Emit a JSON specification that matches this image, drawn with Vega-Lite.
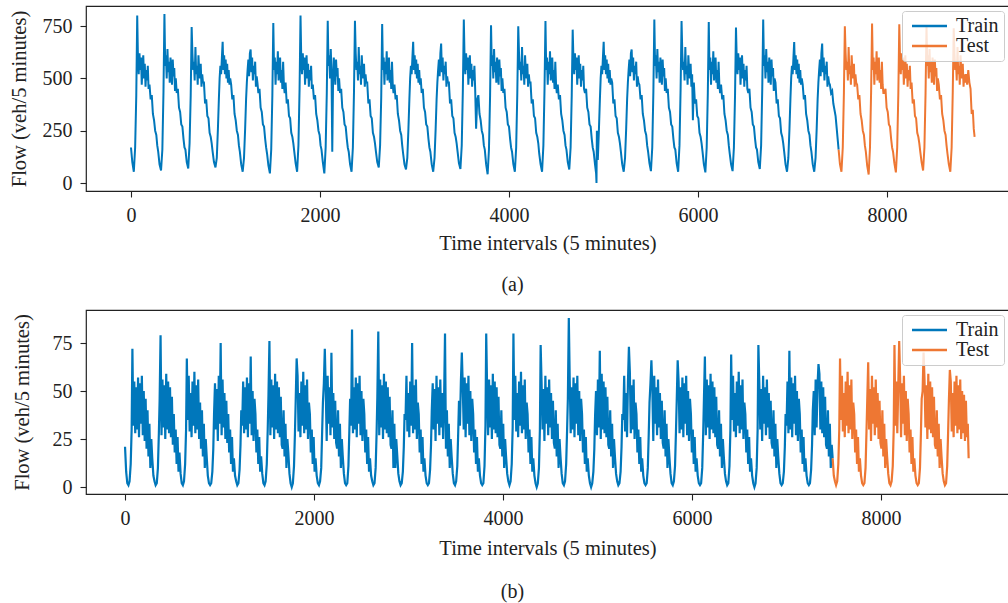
{
"$schema":"https://vega.github.io/schema/vega-lite/v6.json",
"padding":{"left":8,"top":5,"right":0,"bottom":0},
"config":{
"font":"Liberation Serif",
"view":{"stroke":"#222222","strokeWidth":1.2},
"axis":{"domain":false,"grid":false,"ticks":true,"tickSize":6,"tickColor":"#222222","tickWidth":1.1,"labelFont":"Liberation Serif","labelFontSize":20,"labelColor":"#222222","titleFont":"Liberation Serif","titleFontSize":20.5,"titleFontWeight":"normal","titleColor":"#222222","labelPadding":8,"format":"d"},
"legend":{"orient":"top-right","offset":5,"title":null,"symbolType":"M-1,0H6","symbolSize":100,"symbolStrokeWidth":2.5,"labelFont":"Liberation Serif","labelFontSize":20,"labelColor":"#222222","labelOffset":29,"rowPadding":0,"padding":5,"fillColor":"rgba(255,255,255,0.8)","strokeColor":"#cccccc","cornerRadius":3},
"title":{"font":"Liberation Serif","fontSize":20,"fontWeight":"normal","color":"#222222"}
},
"datasets":{
"a":[
{"t":0,"v":170},{"t":14,"v":100},{"t":30,"v":54},{"t":44,"v":170},{"t":56,"v":420},{"t":66,"v":800},{"t":74,"v":590},{"t":82,"v":520},{"t":90,"v":620},{"t":98,"v":540},{"t":106,"v":600},{"t":114,"v":470},{"t":122,"v":560},{"t":130,"v":610},{"t":138,"v":500},{"t":146,"v":570},{"t":154,"v":460},{"t":162,"v":540},{"t":170,"v":490},{"t":178,"v":560},{"t":186,"v":450},{"t":196,"v":470},{"t":208,"v":400},{"t":220,"v":420},{"t":232,"v":330},{"t":244,"v":300},{"t":256,"v":250},{"t":268,"v":230},{"t":278,"v":180},
{"t":288,"v":150},{"t":302,"v":90},{"t":318,"v":60},{"t":332,"v":160},{"t":344,"v":440},{"t":354,"v":808},{"t":362,"v":560},{"t":370,"v":610},{"t":378,"v":500},{"t":386,"v":640},{"t":394,"v":530},{"t":402,"v":580},{"t":410,"v":480},{"t":418,"v":600},{"t":426,"v":540},{"t":434,"v":470},{"t":442,"v":590},{"t":450,"v":510},{"t":458,"v":550},{"t":466,"v":440},{"t":474,"v":500},{"t":484,"v":430},{"t":496,"v":450},{"t":508,"v":360},{"t":520,"v":340},{"t":532,"v":280},{"t":544,"v":270},{"t":556,"v":210},{"t":566,"v":170},
{"t":576,"v":160},{"t":590,"v":100},{"t":606,"v":70},{"t":620,"v":190},{"t":632,"v":420},{"t":642,"v":745},{"t":650,"v":620},{"t":658,"v":540},{"t":666,"v":580},{"t":674,"v":490},{"t":682,"v":650},{"t":690,"v":520},{"t":698,"v":560},{"t":706,"v":470},{"t":714,"v":610},{"t":722,"v":530},{"t":730,"v":500},{"t":738,"v":570},{"t":746,"v":460},{"t":754,"v":520},{"t":762,"v":480},{"t":772,"v":480},{"t":784,"v":380},{"t":796,"v":400},{"t":808,"v":320},{"t":820,"v":310},{"t":832,"v":240},{"t":844,"v":220},{"t":854,"v":190},
{"t":864,"v":150},{"t":878,"v":100},{"t":894,"v":75},{"t":908,"v":120},{"t":920,"v":260},{"t":930,"v":400},{"t":938,"v":500},{"t":946,"v":560},{"t":954,"v":520},{"t":962,"v":600},{"t":970,"v":675},{"t":978,"v":540},{"t":986,"v":610},{"t":994,"v":520},{"t":1002,"v":590},{"t":1010,"v":500},{"t":1018,"v":570},{"t":1026,"v":480},{"t":1034,"v":540},{"t":1042,"v":470},{"t":1050,"v":500},{"t":1060,"v":470},{"t":1072,"v":400},{"t":1084,"v":420},{"t":1096,"v":330},{"t":1108,"v":300},{"t":1120,"v":250},{"t":1132,"v":230},{"t":1142,"v":180},
{"t":1152,"v":150},{"t":1166,"v":90},{"t":1182,"v":54},{"t":1196,"v":120},{"t":1208,"v":260},{"t":1218,"v":400},{"t":1226,"v":480},{"t":1234,"v":540},{"t":1242,"v":590},{"t":1250,"v":510},{"t":1258,"v":620},{"t":1266,"v":638},{"t":1274,"v":530},{"t":1282,"v":600},{"t":1290,"v":490},{"t":1298,"v":560},{"t":1306,"v":520},{"t":1314,"v":580},{"t":1322,"v":460},{"t":1330,"v":510},{"t":1338,"v":480},{"t":1348,"v":430},{"t":1360,"v":450},{"t":1372,"v":360},{"t":1384,"v":340},{"t":1396,"v":280},{"t":1408,"v":270},{"t":1420,"v":210},{"t":1430,"v":170},
{"t":1440,"v":140},{"t":1454,"v":85},{"t":1470,"v":46},{"t":1484,"v":160},{"t":1496,"v":420},{"t":1506,"v":765},{"t":1514,"v":540},{"t":1522,"v":600},{"t":1530,"v":470},{"t":1538,"v":580},{"t":1546,"v":520},{"t":1554,"v":630},{"t":1562,"v":490},{"t":1570,"v":550},{"t":1578,"v":600},{"t":1586,"v":480},{"t":1594,"v":540},{"t":1602,"v":450},{"t":1610,"v":580},{"t":1618,"v":470},{"t":1626,"v":430},{"t":1636,"v":480},{"t":1648,"v":380},{"t":1660,"v":400},{"t":1672,"v":320},{"t":1684,"v":310},{"t":1696,"v":240},{"t":1708,"v":220},{"t":1718,"v":190},
{"t":1728,"v":150},{"t":1742,"v":95},{"t":1758,"v":54},{"t":1772,"v":180},{"t":1784,"v":450},{"t":1794,"v":800},{"t":1802,"v":590},{"t":1810,"v":520},{"t":1818,"v":620},{"t":1826,"v":540},{"t":1834,"v":600},{"t":1842,"v":470},{"t":1850,"v":560},{"t":1858,"v":610},{"t":1866,"v":500},{"t":1874,"v":570},{"t":1882,"v":460},{"t":1890,"v":540},{"t":1898,"v":490},{"t":1906,"v":560},{"t":1914,"v":450},{"t":1924,"v":470},{"t":1936,"v":400},{"t":1948,"v":420},{"t":1960,"v":330},{"t":1972,"v":300},{"t":1984,"v":250},{"t":1996,"v":230},{"t":2006,"v":180},
{"t":2016,"v":160},{"t":2030,"v":100},{"t":2046,"v":46},{"t":2060,"v":170},{"t":2072,"v":430},{"t":2082,"v":775},{"t":2090,"v":560},{"t":2098,"v":610},{"t":2106,"v":500},{"t":2114,"v":640},{"t":2122,"v":530},{"t":2130,"v":150},{"t":2138,"v":480},{"t":2146,"v":600},{"t":2154,"v":540},{"t":2162,"v":470},{"t":2170,"v":590},{"t":2178,"v":510},{"t":2186,"v":550},{"t":2194,"v":440},{"t":2202,"v":500},{"t":2212,"v":430},{"t":2224,"v":450},{"t":2236,"v":360},{"t":2248,"v":340},{"t":2260,"v":280},{"t":2272,"v":270},{"t":2284,"v":210},{"t":2294,"v":170},
{"t":2304,"v":150},{"t":2318,"v":90},{"t":2334,"v":54},{"t":2348,"v":170},{"t":2360,"v":440},{"t":2370,"v":775},{"t":2378,"v":620},{"t":2386,"v":540},{"t":2394,"v":580},{"t":2402,"v":490},{"t":2410,"v":650},{"t":2418,"v":520},{"t":2426,"v":560},{"t":2434,"v":470},{"t":2442,"v":610},{"t":2450,"v":530},{"t":2458,"v":500},{"t":2466,"v":570},{"t":2474,"v":460},{"t":2482,"v":520},{"t":2490,"v":480},{"t":2500,"v":480},{"t":2512,"v":380},{"t":2524,"v":400},{"t":2536,"v":320},{"t":2548,"v":310},{"t":2560,"v":240},{"t":2572,"v":220},{"t":2582,"v":190},
{"t":2592,"v":150},{"t":2606,"v":100},{"t":2622,"v":75},{"t":2636,"v":180},{"t":2648,"v":410},{"t":2658,"v":760},{"t":2666,"v":540},{"t":2674,"v":600},{"t":2682,"v":470},{"t":2690,"v":580},{"t":2698,"v":520},{"t":2706,"v":630},{"t":2714,"v":490},{"t":2722,"v":550},{"t":2730,"v":600},{"t":2738,"v":480},{"t":2746,"v":540},{"t":2754,"v":450},{"t":2762,"v":580},{"t":2770,"v":470},{"t":2778,"v":430},{"t":2788,"v":470},{"t":2800,"v":400},{"t":2812,"v":420},{"t":2824,"v":330},{"t":2836,"v":300},{"t":2848,"v":250},{"t":2860,"v":230},{"t":2870,"v":180},
{"t":2880,"v":140},{"t":2894,"v":90},{"t":2910,"v":65},{"t":2924,"v":120},{"t":2936,"v":260},{"t":2946,"v":400},{"t":2954,"v":500},{"t":2962,"v":560},{"t":2970,"v":520},{"t":2978,"v":600},{"t":2986,"v":675},{"t":2994,"v":540},{"t":3002,"v":610},{"t":3010,"v":520},{"t":3018,"v":590},{"t":3026,"v":500},{"t":3034,"v":570},{"t":3042,"v":480},{"t":3050,"v":540},{"t":3058,"v":470},{"t":3066,"v":500},{"t":3076,"v":430},{"t":3088,"v":450},{"t":3100,"v":360},{"t":3112,"v":340},{"t":3124,"v":280},{"t":3136,"v":270},{"t":3148,"v":210},{"t":3158,"v":170},
{"t":3168,"v":150},{"t":3182,"v":90},{"t":3198,"v":54},{"t":3212,"v":120},{"t":3224,"v":260},{"t":3234,"v":400},{"t":3242,"v":480},{"t":3250,"v":540},{"t":3258,"v":590},{"t":3266,"v":510},{"t":3274,"v":620},{"t":3282,"v":667},{"t":3290,"v":530},{"t":3298,"v":600},{"t":3306,"v":490},{"t":3314,"v":560},{"t":3322,"v":520},{"t":3330,"v":580},{"t":3338,"v":460},{"t":3346,"v":510},{"t":3354,"v":480},{"t":3364,"v":480},{"t":3376,"v":380},{"t":3388,"v":400},{"t":3400,"v":320},{"t":3412,"v":310},{"t":3424,"v":240},{"t":3436,"v":220},{"t":3446,"v":190},
{"t":3456,"v":150},{"t":3470,"v":95},{"t":3486,"v":67},{"t":3500,"v":180},{"t":3512,"v":450},{"t":3522,"v":781},{"t":3530,"v":590},{"t":3538,"v":520},{"t":3546,"v":620},{"t":3554,"v":540},{"t":3562,"v":600},{"t":3570,"v":470},{"t":3578,"v":560},{"t":3586,"v":610},{"t":3594,"v":500},{"t":3602,"v":570},{"t":3610,"v":460},{"t":3618,"v":540},{"t":3626,"v":490},{"t":3634,"v":560},{"t":3642,"v":450},{"t":3652,"v":260},{"t":3664,"v":400},{"t":3676,"v":420},{"t":3688,"v":330},{"t":3700,"v":300},{"t":3712,"v":250},{"t":3724,"v":230},{"t":3734,"v":180},
{"t":3744,"v":160},{"t":3758,"v":90},{"t":3774,"v":42},{"t":3788,"v":160},{"t":3800,"v":420},{"t":3810,"v":754},{"t":3818,"v":560},{"t":3826,"v":610},{"t":3834,"v":500},{"t":3842,"v":640},{"t":3850,"v":530},{"t":3858,"v":580},{"t":3866,"v":480},{"t":3874,"v":600},{"t":3882,"v":540},{"t":3890,"v":470},{"t":3898,"v":590},{"t":3906,"v":510},{"t":3914,"v":550},{"t":3922,"v":440},{"t":3930,"v":500},{"t":3940,"v":430},{"t":3952,"v":450},{"t":3964,"v":360},{"t":3976,"v":340},{"t":3988,"v":280},{"t":4000,"v":270},{"t":4012,"v":210},{"t":4022,"v":170},
{"t":4032,"v":150},{"t":4046,"v":90},{"t":4062,"v":54},{"t":4076,"v":170},{"t":4088,"v":430},{"t":4098,"v":749},{"t":4106,"v":620},{"t":4114,"v":540},{"t":4122,"v":580},{"t":4130,"v":490},{"t":4138,"v":650},{"t":4146,"v":520},{"t":4154,"v":560},{"t":4162,"v":470},{"t":4170,"v":610},{"t":4178,"v":530},{"t":4186,"v":500},{"t":4194,"v":570},{"t":4202,"v":460},{"t":4210,"v":520},{"t":4218,"v":480},{"t":4228,"v":480},{"t":4240,"v":380},{"t":4252,"v":400},{"t":4264,"v":320},{"t":4276,"v":310},{"t":4288,"v":240},{"t":4300,"v":220},{"t":4310,"v":190},
{"t":4320,"v":140},{"t":4334,"v":90},{"t":4350,"v":54},{"t":4364,"v":180},{"t":4376,"v":450},{"t":4386,"v":774},{"t":4394,"v":540},{"t":4402,"v":600},{"t":4410,"v":470},{"t":4418,"v":580},{"t":4426,"v":520},{"t":4434,"v":630},{"t":4442,"v":490},{"t":4450,"v":550},{"t":4458,"v":600},{"t":4466,"v":480},{"t":4474,"v":540},{"t":4482,"v":450},{"t":4490,"v":580},{"t":4498,"v":470},{"t":4506,"v":430},{"t":4516,"v":470},{"t":4528,"v":400},{"t":4540,"v":420},{"t":4552,"v":330},{"t":4564,"v":300},{"t":4576,"v":250},{"t":4588,"v":230},{"t":4598,"v":180},
{"t":4608,"v":160},{"t":4622,"v":100},{"t":4638,"v":65},{"t":4652,"v":170},{"t":4664,"v":420},{"t":4674,"v":733},{"t":4682,"v":590},{"t":4690,"v":520},{"t":4698,"v":620},{"t":4706,"v":540},{"t":4714,"v":600},{"t":4722,"v":470},{"t":4730,"v":560},{"t":4738,"v":610},{"t":4746,"v":500},{"t":4754,"v":570},{"t":4762,"v":460},{"t":4770,"v":540},{"t":4778,"v":490},{"t":4786,"v":560},{"t":4794,"v":450},{"t":4804,"v":430},{"t":4816,"v":450},{"t":4828,"v":360},{"t":4840,"v":340},{"t":4852,"v":280},{"t":4864,"v":270},{"t":4876,"v":210},{"t":4886,"v":170},
{"t":4896,"v":150},{"t":4910,"v":90},{"t":4922,"v":45},{"t":4926,"v":0},{"t":4930,"v":250},{"t":4940,"v":110},{"t":4952,"v":260},{"t":4962,"v":400},{"t":4970,"v":500},{"t":4978,"v":560},{"t":4986,"v":520},{"t":4994,"v":600},{"t":5002,"v":675},{"t":5010,"v":540},{"t":5018,"v":610},{"t":5026,"v":520},{"t":5034,"v":590},{"t":5042,"v":500},{"t":5050,"v":570},{"t":5058,"v":480},{"t":5066,"v":540},{"t":5074,"v":470},{"t":5082,"v":500},{"t":5092,"v":480},{"t":5104,"v":380},{"t":5116,"v":400},{"t":5128,"v":320},{"t":5140,"v":310},{"t":5152,"v":240},{"t":5164,"v":220},{"t":5174,"v":190},
{"t":5184,"v":150},{"t":5198,"v":90},{"t":5214,"v":54},{"t":5228,"v":120},{"t":5240,"v":260},{"t":5250,"v":400},{"t":5258,"v":480},{"t":5266,"v":540},{"t":5274,"v":590},{"t":5282,"v":510},{"t":5290,"v":620},{"t":5298,"v":638},{"t":5306,"v":530},{"t":5314,"v":600},{"t":5322,"v":490},{"t":5330,"v":560},{"t":5338,"v":520},{"t":5346,"v":580},{"t":5354,"v":460},{"t":5362,"v":510},{"t":5370,"v":480},{"t":5380,"v":470},{"t":5392,"v":400},{"t":5404,"v":420},{"t":5416,"v":330},{"t":5428,"v":300},{"t":5440,"v":250},{"t":5452,"v":230},{"t":5462,"v":180},
{"t":5472,"v":150},{"t":5486,"v":95},{"t":5502,"v":57},{"t":5516,"v":170},{"t":5528,"v":440},{"t":5538,"v":781},{"t":5546,"v":560},{"t":5554,"v":610},{"t":5562,"v":500},{"t":5570,"v":640},{"t":5578,"v":530},{"t":5586,"v":580},{"t":5594,"v":480},{"t":5602,"v":600},{"t":5610,"v":540},{"t":5618,"v":470},{"t":5626,"v":590},{"t":5634,"v":510},{"t":5642,"v":550},{"t":5650,"v":440},{"t":5658,"v":500},{"t":5668,"v":430},{"t":5680,"v":450},{"t":5692,"v":360},{"t":5704,"v":340},{"t":5716,"v":280},{"t":5728,"v":270},{"t":5740,"v":210},{"t":5750,"v":170},
{"t":5760,"v":160},{"t":5774,"v":95},{"t":5790,"v":54},{"t":5804,"v":180},{"t":5816,"v":450},{"t":5826,"v":774},{"t":5834,"v":620},{"t":5842,"v":540},{"t":5850,"v":580},{"t":5858,"v":490},{"t":5866,"v":650},{"t":5874,"v":520},{"t":5882,"v":560},{"t":5890,"v":470},{"t":5898,"v":610},{"t":5906,"v":530},{"t":5914,"v":500},{"t":5922,"v":570},{"t":5930,"v":460},{"t":5938,"v":520},{"t":5946,"v":300},{"t":5956,"v":480},{"t":5968,"v":380},{"t":5980,"v":400},{"t":5992,"v":320},{"t":6004,"v":310},{"t":6016,"v":240},{"t":6028,"v":220},{"t":6038,"v":190},
{"t":6048,"v":150},{"t":6062,"v":90},{"t":6078,"v":51},{"t":6092,"v":170},{"t":6104,"v":430},{"t":6114,"v":770},{"t":6122,"v":540},{"t":6130,"v":600},{"t":6138,"v":470},{"t":6146,"v":580},{"t":6154,"v":520},{"t":6162,"v":630},{"t":6170,"v":490},{"t":6178,"v":550},{"t":6186,"v":600},{"t":6194,"v":480},{"t":6202,"v":540},{"t":6210,"v":450},{"t":6218,"v":580},{"t":6226,"v":470},{"t":6234,"v":430},{"t":6244,"v":470},{"t":6256,"v":400},{"t":6268,"v":420},{"t":6280,"v":330},{"t":6292,"v":300},{"t":6304,"v":250},{"t":6316,"v":230},{"t":6326,"v":180},
{"t":6336,"v":140},{"t":6350,"v":90},{"t":6366,"v":57},{"t":6380,"v":170},{"t":6392,"v":420},{"t":6402,"v":743},{"t":6410,"v":590},{"t":6418,"v":520},{"t":6426,"v":620},{"t":6434,"v":540},{"t":6442,"v":600},{"t":6450,"v":470},{"t":6458,"v":560},{"t":6466,"v":610},{"t":6474,"v":500},{"t":6482,"v":570},{"t":6490,"v":460},{"t":6498,"v":540},{"t":6506,"v":490},{"t":6514,"v":560},{"t":6522,"v":450},{"t":6532,"v":430},{"t":6544,"v":450},{"t":6556,"v":360},{"t":6568,"v":340},{"t":6580,"v":280},{"t":6592,"v":270},{"t":6604,"v":210},{"t":6614,"v":170},
{"t":6624,"v":160},{"t":6638,"v":100},{"t":6654,"v":67},{"t":6668,"v":180},{"t":6680,"v":450},{"t":6690,"v":781},{"t":6698,"v":560},{"t":6706,"v":610},{"t":6714,"v":500},{"t":6722,"v":640},{"t":6730,"v":530},{"t":6738,"v":580},{"t":6746,"v":480},{"t":6754,"v":600},{"t":6762,"v":540},{"t":6770,"v":470},{"t":6778,"v":590},{"t":6786,"v":510},{"t":6794,"v":550},{"t":6802,"v":440},{"t":6810,"v":500},{"t":6820,"v":480},{"t":6832,"v":380},{"t":6844,"v":400},{"t":6856,"v":320},{"t":6868,"v":310},{"t":6880,"v":240},{"t":6892,"v":220},{"t":6902,"v":190},
{"t":6912,"v":150},{"t":6926,"v":90},{"t":6942,"v":54},{"t":6956,"v":120},{"t":6968,"v":260},{"t":6978,"v":400},{"t":6986,"v":500},{"t":6994,"v":560},{"t":7002,"v":520},{"t":7010,"v":600},{"t":7018,"v":674},{"t":7026,"v":540},{"t":7034,"v":610},{"t":7042,"v":520},{"t":7050,"v":590},{"t":7058,"v":500},{"t":7066,"v":570},{"t":7074,"v":480},{"t":7082,"v":540},{"t":7090,"v":470},{"t":7098,"v":500},{"t":7108,"v":470},{"t":7120,"v":400},{"t":7132,"v":420},{"t":7144,"v":330},{"t":7156,"v":300},{"t":7168,"v":250},{"t":7180,"v":230},{"t":7190,"v":180},
{"t":7200,"v":150},{"t":7214,"v":90},{"t":7230,"v":54},{"t":7244,"v":120},{"t":7256,"v":260},{"t":7266,"v":400},{"t":7274,"v":480},{"t":7282,"v":540},{"t":7290,"v":590},{"t":7298,"v":510},{"t":7306,"v":620},{"t":7314,"v":667},{"t":7322,"v":530},{"t":7330,"v":600},{"t":7338,"v":490},{"t":7346,"v":560},{"t":7354,"v":520},{"t":7362,"v":580},{"t":7370,"v":460},{"t":7378,"v":510},{"t":7386,"v":480},{"t":7396,"v":470},{"t":7408,"v":430},{"t":7420,"v":440},{"t":7432,"v":380},{"t":7444,"v":350},{"t":7456,"v":320},{"t":7468,"v":260},{"t":7478,"v":210},
{"t":7488,"v":160},{"t":7502,"v":90},{"t":7518,"v":54},{"t":7532,"v":170},{"t":7544,"v":430},{"t":7554,"v":749},{"t":7562,"v":620},{"t":7570,"v":540},{"t":7578,"v":580},{"t":7586,"v":490},{"t":7594,"v":650},{"t":7602,"v":520},{"t":7610,"v":560},{"t":7618,"v":470},{"t":7626,"v":610},{"t":7634,"v":530},{"t":7642,"v":500},{"t":7650,"v":570},{"t":7658,"v":460},{"t":7666,"v":520},{"t":7674,"v":480},{"t":7684,"v":470},{"t":7696,"v":400},{"t":7708,"v":420},{"t":7720,"v":330},{"t":7732,"v":300},{"t":7744,"v":250},{"t":7756,"v":230},{"t":7766,"v":180},
{"t":7776,"v":150},{"t":7790,"v":85},{"t":7806,"v":41},{"t":7820,"v":170},{"t":7832,"v":440},{"t":7842,"v":762},{"t":7850,"v":540},{"t":7858,"v":600},{"t":7866,"v":470},{"t":7874,"v":580},{"t":7882,"v":520},{"t":7890,"v":630},{"t":7898,"v":490},{"t":7906,"v":550},{"t":7914,"v":600},{"t":7922,"v":480},{"t":7930,"v":540},{"t":7938,"v":450},{"t":7946,"v":580},{"t":7954,"v":470},{"t":7962,"v":430},{"t":7972,"v":430},{"t":7984,"v":450},{"t":7996,"v":360},{"t":8008,"v":340},{"t":8020,"v":280},{"t":8032,"v":270},{"t":8044,"v":210},{"t":8054,"v":170},
{"t":8064,"v":150},{"t":8078,"v":95},{"t":8094,"v":51},{"t":8108,"v":170},{"t":8120,"v":430},{"t":8130,"v":759},{"t":8138,"v":590},{"t":8146,"v":520},{"t":8154,"v":620},{"t":8162,"v":540},{"t":8170,"v":600},{"t":8178,"v":470},{"t":8186,"v":560},{"t":8194,"v":610},{"t":8202,"v":500},{"t":8210,"v":570},{"t":8218,"v":460},{"t":8226,"v":540},{"t":8234,"v":490},{"t":8242,"v":560},{"t":8250,"v":450},{"t":8260,"v":480},{"t":8272,"v":380},{"t":8284,"v":400},{"t":8296,"v":320},{"t":8308,"v":310},{"t":8320,"v":240},{"t":8332,"v":220},{"t":8342,"v":190},
{"t":8352,"v":150},{"t":8366,"v":100},{"t":8382,"v":60},{"t":8396,"v":170},{"t":8408,"v":430},{"t":8418,"v":750},{"t":8426,"v":560},{"t":8434,"v":610},{"t":8442,"v":500},{"t":8450,"v":640},{"t":8458,"v":530},{"t":8466,"v":580},{"t":8474,"v":480},{"t":8482,"v":600},{"t":8490,"v":540},{"t":8498,"v":470},{"t":8506,"v":590},{"t":8514,"v":510},{"t":8522,"v":550},{"t":8530,"v":440},{"t":8538,"v":500},{"t":8548,"v":470},{"t":8560,"v":400},{"t":8572,"v":420},{"t":8584,"v":330},{"t":8596,"v":300},{"t":8608,"v":250},{"t":8620,"v":230},{"t":8630,"v":180},
{"t":8640,"v":140},{"t":8654,"v":90},{"t":8670,"v":54},{"t":8684,"v":170},{"t":8696,"v":440},{"t":8706,"v":740},{"t":8714,"v":620},{"t":8722,"v":540},{"t":8730,"v":580},{"t":8738,"v":490},{"t":8746,"v":650},{"t":8754,"v":520},{"t":8762,"v":560},{"t":8770,"v":470},{"t":8778,"v":610},{"t":8786,"v":530},{"t":8794,"v":500},{"t":8802,"v":570},{"t":8810,"v":460},{"t":8818,"v":520},{"t":8826,"v":480},{"t":8836,"v":520},{"t":8848,"v":470},{"t":8860,"v":540},{"t":8872,"v":480},{"t":8884,"v":450},{"t":8896,"v":330},{"t":8908,"v":350},{"t":8918,"v":260},{"t":8927,"v":221}
],
"b":[
{"t":0,"v":21},{"t":12,"v":8},{"t":24,"v":2},{"t":36,"v":1},{"t":48,"v":3},{"t":60,"v":12},{"t":70,"v":30},{"t":78,"v":72},{"t":88,"v":32},{"t":98,"v":55},{"t":108,"v":28},{"t":118,"v":52},{"t":128,"v":30},{"t":138,"v":57},{"t":148,"v":26},{"t":158,"v":54},{"t":168,"v":33},{"t":178,"v":58},{"t":188,"v":27},{"t":198,"v":50},{"t":208,"v":24},{"t":218,"v":46},{"t":228,"v":20},{"t":238,"v":40},{"t":248,"v":16},{"t":258,"v":33},{"t":268,"v":10},{"t":278,"v":25},
{"t":288,"v":15},{"t":300,"v":6},{"t":312,"v":3},{"t":324,"v":1},{"t":336,"v":2},{"t":348,"v":10},{"t":358,"v":28},{"t":366,"v":45},{"t":376,"v":79},{"t":386,"v":27},{"t":396,"v":56},{"t":406,"v":31},{"t":416,"v":53},{"t":426,"v":25},{"t":436,"v":59},{"t":446,"v":30},{"t":456,"v":55},{"t":466,"v":28},{"t":476,"v":52},{"t":486,"v":26},{"t":496,"v":47},{"t":506,"v":22},{"t":516,"v":38},{"t":526,"v":18},{"t":536,"v":30},{"t":546,"v":12},{"t":556,"v":26},{"t":566,"v":8},
{"t":576,"v":18},{"t":588,"v":7},{"t":600,"v":2},{"t":612,"v":1},{"t":624,"v":3},{"t":636,"v":12},{"t":646,"v":30},{"t":654,"v":67},{"t":664,"v":35},{"t":674,"v":58},{"t":684,"v":29},{"t":694,"v":49},{"t":704,"v":26},{"t":714,"v":55},{"t":724,"v":32},{"t":734,"v":60},{"t":744,"v":28},{"t":754,"v":53},{"t":764,"v":30},{"t":774,"v":56},{"t":784,"v":25},{"t":794,"v":44},{"t":804,"v":20},{"t":814,"v":40},{"t":824,"v":16},{"t":834,"v":33},{"t":844,"v":10},{"t":854,"v":25},
{"t":864,"v":16},{"t":876,"v":6},{"t":888,"v":2},{"t":900,"v":1},{"t":912,"v":2},{"t":924,"v":8},{"t":934,"v":20},{"t":942,"v":38},{"t":952,"v":54},{"t":962,"v":30},{"t":972,"v":51},{"t":982,"v":24},{"t":992,"v":58},{"t":1002,"v":33},{"t":1012,"v":75},{"t":1022,"v":27},{"t":1032,"v":56},{"t":1042,"v":31},{"t":1052,"v":49},{"t":1062,"v":25},{"t":1072,"v":45},{"t":1082,"v":23},{"t":1092,"v":38},{"t":1102,"v":18},{"t":1112,"v":30},{"t":1122,"v":12},{"t":1132,"v":26},{"t":1142,"v":8},
{"t":1152,"v":15},{"t":1164,"v":6},{"t":1176,"v":3},{"t":1188,"v":1},{"t":1200,"v":2},{"t":1212,"v":9},{"t":1222,"v":22},{"t":1230,"v":40},{"t":1240,"v":32},{"t":1250,"v":55},{"t":1260,"v":28},{"t":1270,"v":52},{"t":1280,"v":30},{"t":1290,"v":57},{"t":1300,"v":26},{"t":1310,"v":54},{"t":1320,"v":33},{"t":1330,"v":68},{"t":1340,"v":27},{"t":1350,"v":50},{"t":1360,"v":24},{"t":1370,"v":46},{"t":1380,"v":38},{"t":1390,"v":18},{"t":1400,"v":30},{"t":1410,"v":12},{"t":1420,"v":26},{"t":1430,"v":8},
{"t":1440,"v":16},{"t":1452,"v":7},{"t":1464,"v":2},{"t":1476,"v":1},{"t":1488,"v":3},{"t":1500,"v":12},{"t":1510,"v":30},{"t":1518,"v":48},{"t":1528,"v":76},{"t":1538,"v":27},{"t":1548,"v":56},{"t":1558,"v":31},{"t":1568,"v":53},{"t":1578,"v":25},{"t":1588,"v":59},{"t":1598,"v":30},{"t":1608,"v":55},{"t":1618,"v":28},{"t":1628,"v":52},{"t":1638,"v":26},{"t":1648,"v":47},{"t":1658,"v":22},{"t":1668,"v":20},{"t":1678,"v":40},{"t":1688,"v":16},{"t":1698,"v":33},{"t":1708,"v":10},{"t":1718,"v":25},
{"t":1728,"v":18},{"t":1740,"v":7},{"t":1752,"v":2},{"t":1764,"v":0},{"t":1776,"v":2},{"t":1788,"v":11},{"t":1798,"v":28},{"t":1806,"v":45},{"t":1816,"v":67},{"t":1826,"v":58},{"t":1836,"v":29},{"t":1846,"v":49},{"t":1856,"v":26},{"t":1866,"v":55},{"t":1876,"v":32},{"t":1886,"v":60},{"t":1896,"v":28},{"t":1906,"v":53},{"t":1916,"v":30},{"t":1926,"v":56},{"t":1936,"v":25},{"t":1946,"v":44},{"t":1956,"v":38},{"t":1966,"v":18},{"t":1976,"v":30},{"t":1986,"v":12},{"t":1996,"v":26},{"t":2006,"v":8},
{"t":2016,"v":15},{"t":2028,"v":6},{"t":2040,"v":2},{"t":2052,"v":1},{"t":2064,"v":3},{"t":2076,"v":10},{"t":2086,"v":29},{"t":2094,"v":44},{"t":2104,"v":54},{"t":2114,"v":72},{"t":2124,"v":51},{"t":2134,"v":24},{"t":2144,"v":58},{"t":2154,"v":33},{"t":2164,"v":52},{"t":2174,"v":27},{"t":2184,"v":70},{"t":2194,"v":31},{"t":2204,"v":49},{"t":2214,"v":25},{"t":2224,"v":45},{"t":2234,"v":23},{"t":2244,"v":20},{"t":2254,"v":40},{"t":2264,"v":16},{"t":2274,"v":33},{"t":2284,"v":10},{"t":2294,"v":25},
{"t":2304,"v":16},{"t":2316,"v":7},{"t":2328,"v":2},{"t":2340,"v":1},{"t":2352,"v":2},{"t":2364,"v":11},{"t":2374,"v":30},{"t":2382,"v":46},{"t":2392,"v":32},{"t":2402,"v":82},{"t":2412,"v":28},{"t":2422,"v":52},{"t":2432,"v":30},{"t":2442,"v":57},{"t":2452,"v":26},{"t":2462,"v":54},{"t":2472,"v":33},{"t":2482,"v":58},{"t":2492,"v":27},{"t":2502,"v":50},{"t":2512,"v":24},{"t":2522,"v":46},{"t":2532,"v":38},{"t":2542,"v":18},{"t":2552,"v":30},{"t":2562,"v":12},{"t":2572,"v":26},{"t":2582,"v":8},
{"t":2592,"v":15},{"t":2604,"v":6},{"t":2616,"v":3},{"t":2628,"v":1},{"t":2640,"v":2},{"t":2652,"v":10},{"t":2662,"v":28},{"t":2670,"v":47},{"t":2680,"v":81},{"t":2690,"v":27},{"t":2700,"v":56},{"t":2710,"v":31},{"t":2720,"v":53},{"t":2730,"v":25},{"t":2740,"v":59},{"t":2750,"v":30},{"t":2760,"v":55},{"t":2770,"v":28},{"t":2780,"v":52},{"t":2790,"v":26},{"t":2800,"v":47},{"t":2810,"v":22},{"t":2820,"v":20},{"t":2830,"v":40},{"t":2840,"v":10},{"t":2850,"v":33},{"t":2860,"v":10},{"t":2870,"v":25},
{"t":2880,"v":17},{"t":2892,"v":7},{"t":2904,"v":3},{"t":2916,"v":1},{"t":2928,"v":2},{"t":2940,"v":8},{"t":2950,"v":21},{"t":2958,"v":38},{"t":2968,"v":35},{"t":2978,"v":58},{"t":2988,"v":29},{"t":2998,"v":49},{"t":3008,"v":26},{"t":3018,"v":55},{"t":3028,"v":32},{"t":3038,"v":75},{"t":3048,"v":28},{"t":3058,"v":53},{"t":3068,"v":30},{"t":3078,"v":56},{"t":3088,"v":25},{"t":3098,"v":44},{"t":3108,"v":38},{"t":3118,"v":18},{"t":3128,"v":30},{"t":3138,"v":12},{"t":3148,"v":26},{"t":3158,"v":8},
{"t":3168,"v":15},{"t":3180,"v":6},{"t":3192,"v":2},{"t":3204,"v":1},{"t":3216,"v":2},{"t":3228,"v":9},{"t":3238,"v":22},{"t":3246,"v":40},{"t":3256,"v":54},{"t":3266,"v":30},{"t":3276,"v":51},{"t":3286,"v":24},{"t":3296,"v":58},{"t":3306,"v":33},{"t":3316,"v":52},{"t":3326,"v":27},{"t":3336,"v":56},{"t":3346,"v":31},{"t":3356,"v":49},{"t":3366,"v":25},{"t":3376,"v":45},{"t":3386,"v":80},{"t":3396,"v":20},{"t":3406,"v":40},{"t":3416,"v":16},{"t":3426,"v":33},{"t":3436,"v":10},{"t":3446,"v":25},
{"t":3456,"v":16},{"t":3468,"v":7},{"t":3480,"v":2},{"t":3492,"v":1},{"t":3504,"v":3},{"t":3516,"v":11},{"t":3526,"v":29},{"t":3534,"v":45},{"t":3544,"v":32},{"t":3554,"v":55},{"t":3564,"v":70},{"t":3574,"v":52},{"t":3584,"v":30},{"t":3594,"v":57},{"t":3604,"v":26},{"t":3614,"v":54},{"t":3624,"v":33},{"t":3634,"v":58},{"t":3644,"v":27},{"t":3654,"v":50},{"t":3664,"v":24},{"t":3674,"v":46},{"t":3684,"v":38},{"t":3694,"v":18},{"t":3704,"v":30},{"t":3714,"v":12},{"t":3724,"v":26},{"t":3734,"v":8},
{"t":3744,"v":15},{"t":3756,"v":6},{"t":3768,"v":2},{"t":3780,"v":1},{"t":3792,"v":2},{"t":3804,"v":11},{"t":3814,"v":32},{"t":3822,"v":80},{"t":3832,"v":50},{"t":3842,"v":27},{"t":3852,"v":56},{"t":3862,"v":31},{"t":3872,"v":53},{"t":3882,"v":25},{"t":3892,"v":59},{"t":3902,"v":30},{"t":3912,"v":55},{"t":3922,"v":28},{"t":3932,"v":52},{"t":3942,"v":26},{"t":3952,"v":47},{"t":3962,"v":22},{"t":3972,"v":20},{"t":3982,"v":40},{"t":3992,"v":16},{"t":4002,"v":33},{"t":4012,"v":10},{"t":4022,"v":25},
{"t":4032,"v":16},{"t":4044,"v":7},{"t":4056,"v":3},{"t":4068,"v":1},{"t":4080,"v":3},{"t":4092,"v":12},{"t":4102,"v":31},{"t":4110,"v":80},{"t":4120,"v":35},{"t":4130,"v":58},{"t":4140,"v":29},{"t":4150,"v":49},{"t":4160,"v":26},{"t":4170,"v":55},{"t":4180,"v":32},{"t":4190,"v":60},{"t":4200,"v":28},{"t":4210,"v":53},{"t":4220,"v":30},{"t":4230,"v":56},{"t":4240,"v":25},{"t":4250,"v":44},{"t":4260,"v":38},{"t":4270,"v":18},{"t":4280,"v":30},{"t":4290,"v":12},{"t":4300,"v":26},{"t":4310,"v":8},
{"t":4320,"v":15},{"t":4332,"v":6},{"t":4344,"v":2},{"t":4356,"v":0},{"t":4368,"v":2},{"t":4380,"v":10},{"t":4390,"v":30},{"t":4398,"v":74},{"t":4408,"v":54},{"t":4418,"v":30},{"t":4428,"v":51},{"t":4438,"v":24},{"t":4448,"v":58},{"t":4458,"v":33},{"t":4468,"v":52},{"t":4478,"v":27},{"t":4488,"v":56},{"t":4498,"v":31},{"t":4508,"v":49},{"t":4518,"v":25},{"t":4528,"v":45},{"t":4538,"v":23},{"t":4548,"v":20},{"t":4558,"v":40},{"t":4568,"v":16},{"t":4578,"v":33},{"t":4588,"v":10},{"t":4598,"v":25},
{"t":4608,"v":16},{"t":4620,"v":7},{"t":4632,"v":2},{"t":4644,"v":1},{"t":4656,"v":3},{"t":4668,"v":12},{"t":4678,"v":30},{"t":4686,"v":46},{"t":4696,"v":88},{"t":4706,"v":55},{"t":4716,"v":28},{"t":4726,"v":52},{"t":4736,"v":30},{"t":4746,"v":57},{"t":4756,"v":26},{"t":4766,"v":54},{"t":4776,"v":33},{"t":4786,"v":58},{"t":4796,"v":27},{"t":4806,"v":50},{"t":4816,"v":24},{"t":4826,"v":46},{"t":4836,"v":38},{"t":4846,"v":18},{"t":4856,"v":30},{"t":4866,"v":12},{"t":4876,"v":26},{"t":4886,"v":8},
{"t":4896,"v":15},{"t":4908,"v":6},{"t":4920,"v":2},{"t":4932,"v":0},{"t":4944,"v":2},{"t":4956,"v":8},{"t":4966,"v":20},{"t":4974,"v":37},{"t":4984,"v":50},{"t":4994,"v":27},{"t":5004,"v":56},{"t":5014,"v":31},{"t":5024,"v":71},{"t":5034,"v":25},{"t":5044,"v":59},{"t":5054,"v":30},{"t":5064,"v":55},{"t":5074,"v":28},{"t":5084,"v":52},{"t":5094,"v":26},{"t":5104,"v":47},{"t":5114,"v":22},{"t":5124,"v":20},{"t":5134,"v":40},{"t":5144,"v":16},{"t":5154,"v":33},{"t":5164,"v":10},{"t":5174,"v":25},
{"t":5184,"v":16},{"t":5196,"v":7},{"t":5208,"v":3},{"t":5220,"v":1},{"t":5232,"v":2},{"t":5244,"v":8},{"t":5254,"v":21},{"t":5262,"v":38},{"t":5272,"v":35},{"t":5282,"v":58},{"t":5292,"v":29},{"t":5302,"v":49},{"t":5312,"v":26},{"t":5322,"v":55},{"t":5332,"v":73},{"t":5342,"v":60},{"t":5352,"v":28},{"t":5362,"v":53},{"t":5372,"v":30},{"t":5382,"v":56},{"t":5392,"v":25},{"t":5402,"v":44},{"t":5412,"v":38},{"t":5422,"v":18},{"t":5432,"v":30},{"t":5442,"v":12},{"t":5452,"v":26},{"t":5462,"v":8},
{"t":5472,"v":15},{"t":5484,"v":6},{"t":5496,"v":2},{"t":5508,"v":1},{"t":5520,"v":2},{"t":5532,"v":10},{"t":5542,"v":28},{"t":5550,"v":44},{"t":5560,"v":54},{"t":5570,"v":66},{"t":5580,"v":51},{"t":5590,"v":24},{"t":5600,"v":58},{"t":5610,"v":33},{"t":5620,"v":52},{"t":5630,"v":27},{"t":5640,"v":56},{"t":5650,"v":31},{"t":5660,"v":49},{"t":5670,"v":25},{"t":5680,"v":45},{"t":5690,"v":23},{"t":5700,"v":20},{"t":5710,"v":40},{"t":5720,"v":16},{"t":5730,"v":33},{"t":5740,"v":10},{"t":5750,"v":25},
{"t":5760,"v":16},{"t":5772,"v":7},{"t":5784,"v":2},{"t":5796,"v":1},{"t":5808,"v":3},{"t":5820,"v":11},{"t":5830,"v":29},{"t":5838,"v":45},{"t":5848,"v":66},{"t":5858,"v":55},{"t":5868,"v":28},{"t":5878,"v":52},{"t":5888,"v":30},{"t":5898,"v":57},{"t":5908,"v":26},{"t":5918,"v":54},{"t":5928,"v":33},{"t":5938,"v":58},{"t":5948,"v":27},{"t":5958,"v":50},{"t":5968,"v":24},{"t":5978,"v":46},{"t":5988,"v":38},{"t":5998,"v":18},{"t":6008,"v":30},{"t":6018,"v":12},{"t":6028,"v":26},{"t":6038,"v":8},
{"t":6048,"v":15},{"t":6060,"v":6},{"t":6072,"v":2},{"t":6084,"v":1},{"t":6096,"v":2},{"t":6108,"v":10},{"t":6118,"v":28},{"t":6126,"v":46},{"t":6136,"v":68},{"t":6146,"v":27},{"t":6156,"v":56},{"t":6166,"v":31},{"t":6176,"v":53},{"t":6186,"v":25},{"t":6196,"v":59},{"t":6206,"v":30},{"t":6216,"v":55},{"t":6226,"v":28},{"t":6236,"v":52},{"t":6246,"v":26},{"t":6256,"v":47},{"t":6266,"v":22},{"t":6276,"v":20},{"t":6286,"v":40},{"t":6296,"v":16},{"t":6306,"v":33},{"t":6316,"v":10},{"t":6326,"v":25},
{"t":6336,"v":16},{"t":6348,"v":7},{"t":6360,"v":3},{"t":6372,"v":1},{"t":6384,"v":2},{"t":6396,"v":11},{"t":6406,"v":30},{"t":6414,"v":69},{"t":6424,"v":35},{"t":6434,"v":58},{"t":6444,"v":29},{"t":6454,"v":49},{"t":6464,"v":26},{"t":6474,"v":55},{"t":6484,"v":32},{"t":6494,"v":60},{"t":6504,"v":28},{"t":6514,"v":53},{"t":6524,"v":30},{"t":6534,"v":56},{"t":6544,"v":25},{"t":6554,"v":44},{"t":6564,"v":38},{"t":6574,"v":18},{"t":6584,"v":30},{"t":6594,"v":12},{"t":6604,"v":26},{"t":6614,"v":8},
{"t":6624,"v":15},{"t":6636,"v":6},{"t":6648,"v":2},{"t":6660,"v":0},{"t":6672,"v":2},{"t":6684,"v":10},{"t":6694,"v":30},{"t":6702,"v":74},{"t":6712,"v":54},{"t":6722,"v":30},{"t":6732,"v":51},{"t":6742,"v":24},{"t":6752,"v":58},{"t":6762,"v":33},{"t":6772,"v":52},{"t":6782,"v":27},{"t":6792,"v":56},{"t":6802,"v":31},{"t":6812,"v":49},{"t":6822,"v":25},{"t":6832,"v":45},{"t":6842,"v":23},{"t":6852,"v":20},{"t":6862,"v":40},{"t":6872,"v":16},{"t":6882,"v":33},{"t":6892,"v":10},{"t":6902,"v":25},
{"t":6912,"v":16},{"t":6924,"v":7},{"t":6936,"v":2},{"t":6948,"v":1},{"t":6960,"v":2},{"t":6972,"v":8},{"t":6982,"v":21},{"t":6990,"v":38},{"t":7000,"v":32},{"t":7010,"v":55},{"t":7020,"v":28},{"t":7030,"v":71},{"t":7040,"v":30},{"t":7050,"v":57},{"t":7060,"v":26},{"t":7070,"v":54},{"t":7080,"v":33},{"t":7090,"v":58},{"t":7100,"v":27},{"t":7110,"v":50},{"t":7120,"v":24},{"t":7130,"v":46},{"t":7140,"v":38},{"t":7150,"v":18},{"t":7160,"v":30},{"t":7170,"v":12},{"t":7180,"v":26},{"t":7190,"v":8},
{"t":7200,"v":15},{"t":7212,"v":6},{"t":7224,"v":2},{"t":7236,"v":1},{"t":7248,"v":2},{"t":7260,"v":9},{"t":7270,"v":22},{"t":7278,"v":40},{"t":7288,"v":50},{"t":7298,"v":27},{"t":7308,"v":56},{"t":7318,"v":31},{"t":7328,"v":53},{"t":7338,"v":64},{"t":7348,"v":59},{"t":7358,"v":30},{"t":7368,"v":55},{"t":7378,"v":28},{"t":7388,"v":52},{"t":7398,"v":26},{"t":7408,"v":47},{"t":7418,"v":22},{"t":7428,"v":20},{"t":7438,"v":40},{"t":7448,"v":16},{"t":7458,"v":33},{"t":7468,"v":10},{"t":7478,"v":22},
{"t":7488,"v":15},{"t":7500,"v":6},{"t":7512,"v":3},{"t":7524,"v":1},{"t":7536,"v":3},{"t":7548,"v":12},{"t":7558,"v":30},{"t":7566,"v":67},{"t":7576,"v":35},{"t":7586,"v":58},{"t":7596,"v":29},{"t":7606,"v":49},{"t":7616,"v":26},{"t":7626,"v":55},{"t":7636,"v":32},{"t":7646,"v":60},{"t":7656,"v":28},{"t":7666,"v":53},{"t":7676,"v":30},{"t":7686,"v":56},{"t":7696,"v":25},{"t":7706,"v":44},{"t":7716,"v":38},{"t":7726,"v":18},{"t":7736,"v":30},{"t":7746,"v":12},{"t":7756,"v":26},{"t":7766,"v":8},
{"t":7776,"v":15},{"t":7788,"v":6},{"t":7800,"v":2},{"t":7812,"v":1},{"t":7824,"v":2},{"t":7836,"v":10},{"t":7846,"v":29},{"t":7854,"v":45},{"t":7864,"v":65},{"t":7874,"v":30},{"t":7884,"v":51},{"t":7894,"v":24},{"t":7904,"v":58},{"t":7914,"v":33},{"t":7924,"v":52},{"t":7934,"v":27},{"t":7944,"v":56},{"t":7954,"v":31},{"t":7964,"v":49},{"t":7974,"v":25},{"t":7984,"v":45},{"t":7994,"v":23},{"t":8004,"v":20},{"t":8014,"v":40},{"t":8024,"v":16},{"t":8034,"v":33},{"t":8044,"v":10},{"t":8054,"v":25},
{"t":8064,"v":16},{"t":8076,"v":7},{"t":8088,"v":2},{"t":8100,"v":1},{"t":8112,"v":3},{"t":8124,"v":11},{"t":8134,"v":30},{"t":8142,"v":74},{"t":8152,"v":32},{"t":8162,"v":55},{"t":8172,"v":28},{"t":8182,"v":52},{"t":8192,"v":76},{"t":8202,"v":57},{"t":8212,"v":26},{"t":8222,"v":54},{"t":8232,"v":33},{"t":8242,"v":58},{"t":8252,"v":27},{"t":8262,"v":50},{"t":8272,"v":24},{"t":8282,"v":46},{"t":8292,"v":38},{"t":8302,"v":18},{"t":8312,"v":30},{"t":8322,"v":12},{"t":8332,"v":26},{"t":8342,"v":8},
{"t":8352,"v":15},{"t":8364,"v":6},{"t":8376,"v":2},{"t":8388,"v":1},{"t":8400,"v":2},{"t":8412,"v":10},{"t":8422,"v":28},{"t":8430,"v":46},{"t":8440,"v":50},{"t":8450,"v":70},{"t":8460,"v":56},{"t":8470,"v":31},{"t":8480,"v":53},{"t":8490,"v":25},{"t":8500,"v":59},{"t":8510,"v":30},{"t":8520,"v":55},{"t":8530,"v":28},{"t":8540,"v":52},{"t":8550,"v":26},{"t":8560,"v":47},{"t":8570,"v":22},{"t":8580,"v":20},{"t":8590,"v":40},{"t":8600,"v":16},{"t":8610,"v":33},{"t":8620,"v":10},{"t":8630,"v":25},
{"t":8640,"v":16},{"t":8652,"v":7},{"t":8664,"v":3},{"t":8676,"v":1},{"t":8688,"v":2},{"t":8700,"v":11},{"t":8710,"v":29},{"t":8718,"v":45},{"t":8728,"v":61},{"t":8738,"v":55},{"t":8748,"v":29},{"t":8758,"v":49},{"t":8768,"v":26},{"t":8778,"v":55},{"t":8788,"v":32},{"t":8798,"v":58},{"t":8808,"v":28},{"t":8818,"v":53},{"t":8828,"v":30},{"t":8838,"v":56},{"t":8848,"v":25},{"t":8858,"v":50},{"t":8868,"v":28},{"t":8878,"v":48},{"t":8888,"v":24},{"t":8898,"v":45},{"t":8908,"v":26},{"t":8918,"v":33},{"t":8927,"v":15}
]
},
"spacing":13,
"resolve":{"scale":{"color":"independent"},"legend":{"color":"independent"}},
"vconcat":[
{
"width":923,"height":185,
"data":{"name":"a"},
"title":{"text":"(a)","orient":"bottom","dx":-35,"offset":21},
"encoding":{
"x":{"field":"t","type":"quantitative","scale":{"domain":[-476,9291],"nice":false,"zero":false},"axis":{"values":[0,2000,4000,6000,8000],"title":"Time intervals (5 minutes)","titlePadding":8,"labelFlush":false}},
"y":{"field":"v","type":"quantitative","scale":{"domain":[-38,846],"nice":false,"zero":false},"axis":{"values":[0,250,500,750],"title":"Flow (veh/5 minutes)","titlePadding":13}}
},
"layer":[
{"transform":[{"filter":"datum.t <= 7488"}],"mark":{"type":"line","strokeWidth":2},"encoding":{"color":{"datum":"Train","type":"nominal","scale":{"domain":["Train","Test"],"range":["#0077BB","#EE7733"]}}}},
{"transform":[{"filter":"datum.t >= 7488"}],"mark":{"type":"line","strokeWidth":2},"encoding":{"color":{"datum":"Test","type":"nominal","scale":{"domain":["Train","Test"],"range":["#0077BB","#EE7733"]}}}}
]
},
{
"width":923,"height":184,
"data":{"name":"b"},
"title":{"text":"(b)","orient":"bottom","dx":-35,"offset":23},
"encoding":{
"x":{"field":"t","type":"quantitative","scale":{"domain":[-413,9354],"nice":false,"zero":false},"axis":{"values":[0,2000,4000,6000,8000],"title":"Time intervals (5 minutes)","titlePadding":10,"labelFlush":false}},
"y":{"field":"v","type":"quantitative","scale":{"domain":[-3.6,92.2],"nice":false,"zero":false},"axis":{"values":[0,25,50,75],"title":"Flow (veh/5 minutes)","titlePadding":20}}
},
"layer":[
{"transform":[{"filter":"datum.t <= 7488"}],"mark":{"type":"line","strokeWidth":2.2},"encoding":{"color":{"datum":"Train","type":"nominal","scale":{"domain":["Train","Test"],"range":["#0077BB","#EE7733"]}}}},
{"transform":[{"filter":"datum.t >= 7488"}],"mark":{"type":"line","strokeWidth":2.2},"encoding":{"color":{"datum":"Test","type":"nominal","scale":{"domain":["Train","Test"],"range":["#0077BB","#EE7733"]}}}}
]
}
]
}
